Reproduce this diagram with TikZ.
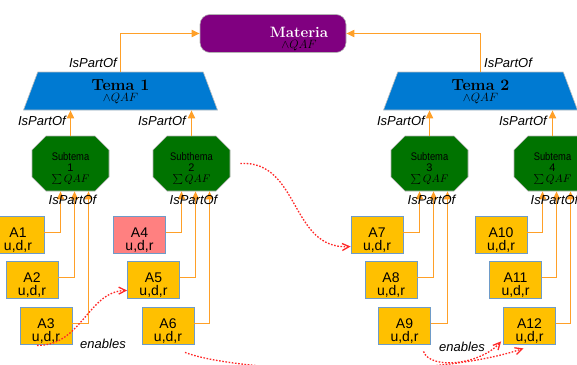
\documentclass[tikz,border=0pt]{standalone}
\usepackage{fontspec}
\usepackage{graphicx}
\newfontfamily\arial{Liberation Sans}
\usetikzlibrary{arrows.meta,shapes.geometric,shapes.misc}
\definecolor{orangeC}{RGB}{255,160,40}
\definecolor{purpleC}{RGB}{128,0,128}
\definecolor{blueC}{RGB}{0,122,210}
\definecolor{greenC}{RGB}{0,115,0}
\definecolor{amberC}{RGB}{255,192,0}
\definecolor{boxB}{RGB}{110,155,200}
\definecolor{pinkC}{RGB}{255,128,128}
\definecolor{redC}{RGB}{255,40,40}
\begin{document}
\begin{tikzpicture}[x=1pt,y=-1pt,
  conn/.style={draw=orangeC, line width=1.7pt, -{Triangle[length=8pt,width=7pt]}},
  dep/.style={draw=redC, line width=1.3pt, dash pattern=on 1.6pt off 1.6pt, -{Straight Barb[length=7pt,width=7pt]}},
  rel/.style={font=\arial\itshape\fontsize{13}{13}\selectfont, inner sep=0pt},
  abox/.style={draw=boxB, fill=amberC, line width=0.8pt, minimum width=52pt, minimum height=37pt, inner sep=0pt, font=\arial\fontsize{14}{12}\selectfont},
  subbox/.style={chamfered rectangle, fill=greenC, draw=gray!60, line width=0.6pt, minimum width=77pt, minimum height=55pt, chamfered rectangle xsep=15pt, chamfered rectangle ysep=14pt, inner sep=0pt},
  temabox/.style={trapezium, trapezium stretches body, trapezium left angle=66, trapezium right angle=66, minimum width=194pt, minimum height=38pt, fill=blueC, draw=gray!50, line width=0.6pt, inner sep=0pt},
  matbox/.style={rounded corners=10pt, fill=purpleC, draw=gray!60, line width=0.6pt, minimum width=146pt, minimum height=38pt, inner sep=0pt},
]
\useasboundingbox (0,0) rectangle (577,364);
\newcommand{\subtxt}[2]{\raisebox{-8pt}[0pt][0pt]{\fontsize{11}{11}\selectfont\begin{tabular}{@{}c@{}}\arial\scalebox{0.85}[1]{#1}\\\arial #2\\$\sum QAF$\end{tabular}}}
\newcommand{\atxt}[1]{\raisebox{-10pt}[0pt][0pt]{\begin{tabular}{@{}c@{}}#1\\u,d,r\end{tabular}}}
\newcommand{\tematxt}[1]{\raisebox{-4pt}[16pt][16pt]{\begin{tabular}{@{}c@{}}\bfseries\fontsize{16}{14}\selectfont #1\\[-1pt]\fontsize{12}{12}\selectfont$\wedge QAF$\end{tabular}}}
% Materia
\node[matbox] (M) at (273,33.5) {};
\node[inner sep=0pt, align=center] (Mt) at (299,39) {{\color{white}\bfseries\fontsize{15}{14}\selectfont Materia}\\[-1pt]{\fontsize{12}{12}\selectfont$\wedge QAF$}};
% Temas
\node[temabox] (T1) at (120.5,91) {\tematxt{Tema 1}};
\node[temabox] (T2) at (480.5,91) {\tematxt{Tema 2}};
% Subtemas
\node[subbox] (S1) at (70.5,163.5) {\subtxt{Subtema}{1}};
\node[subbox] (S2) at (191.5,163.5) {\subtxt{Subthema}{2}};
\node[subbox] (S3) at (429.5,163.5) {\subtxt{Subtema}{3}};
\node[subbox] (S4) at (552.5,163.5) {\subtxt{Subtema}{4}};
% A boxes
\node[abox] (A1) at (18,234.5) {\atxt{A1}};
\node[abox] (A2) at (32,279.5) {\atxt{A2}};
\node[abox] (A3) at (46,325.5) {\atxt{A3}};
\node[abox, fill=pinkC] (A4) at (139.5,234.5) {\atxt{A4}};
\node[abox] (A5) at (153.5,279.5) {\atxt{A5}};
\node[abox] (A6) at (168,325.5) {\atxt{A6}};
\node[abox] (A7) at (377,234.5) {\atxt{A7}};
\node[abox] (A8) at (391,279.5) {\atxt{A8}};
\node[abox] (A9) at (404.5,325.5) {\atxt{A9}};
\node[abox] (A10) at (501,234.5) {\atxt{A10}};
\node[abox] (A11) at (515.5,279.5) {\atxt{A11}};
\node[abox] (A12) at (529.5,325.5) {\atxt{A12}};
% Tema -> Materia
\draw[conn] (T1.north) |- (M.west);
\draw[conn] (T2.north) |- (M.east);
\node[rel, anchor=east] at (117,63) {IsPartOf};
\node[rel, anchor=west] at (484,63) {IsPartOf};
% Subtema -> Tema
\draw[conn] (S1.north) -- (S1.north |- T1.south);
\draw[conn] (S2.north) -- (S2.north |- T1.south);
\draw[conn] (S3.north) -- (S3.north |- T2.south);
\draw[conn] (S4.north) -- (S4.north |- T2.south);
\node[rel, anchor=east] at (66,121) {IsPartOf};
\node[rel, anchor=east] at (186,121) {IsPartOf};
\node[rel, anchor=east] at (425,121) {IsPartOf};
\node[rel, anchor=east] at (547,121) {IsPartOf};
% A -> Subtema
\foreach \a/\s/\d in {A1/S1/-10,A2/S1/4,A3/S1/18,A4/S2/-10,A5/S2/4,A6/S2/18,A7/S3/-10,A8/S3/4,A9/S3/18,A10/S4/-10,A11/S4/4,A12/S4/18}
  \draw[conn] ([yshift=2pt]\a.east) -| ([xshift=\d pt]\s.south);
\foreach \s in {S1,S2,S3,S4}
  \node[rel] at ([xshift=2pt,yshift=-9pt]\s.south) {IsPartOf};
% enables
\draw[dep] ([xshift=-9pt,yshift=-1pt]A3.south) .. controls (82,346) and (88,291) .. ([yshift=-11pt]A5.west);
\node[rel] at (103,344) {enables};
\draw[dep] ([xshift=10pt]S2.east) .. controls (300,160) and (290,250) .. ([yshift=-12pt]A7.west);
\draw[dep] ([xshift=17pt,yshift=-8pt]A6.south) .. controls (235,372) and (430,380) .. ([xshift=-6pt,yshift=-4pt]A12.south);
\draw[dep] ([xshift=19pt,yshift=-7pt]A9.south) .. controls (430,370) and (480,365) .. ([xshift=-2pt,yshift=3pt]A12.south west);
\node[rel] at (462,347) {enables};
\end{tikzpicture}
\end{document}
